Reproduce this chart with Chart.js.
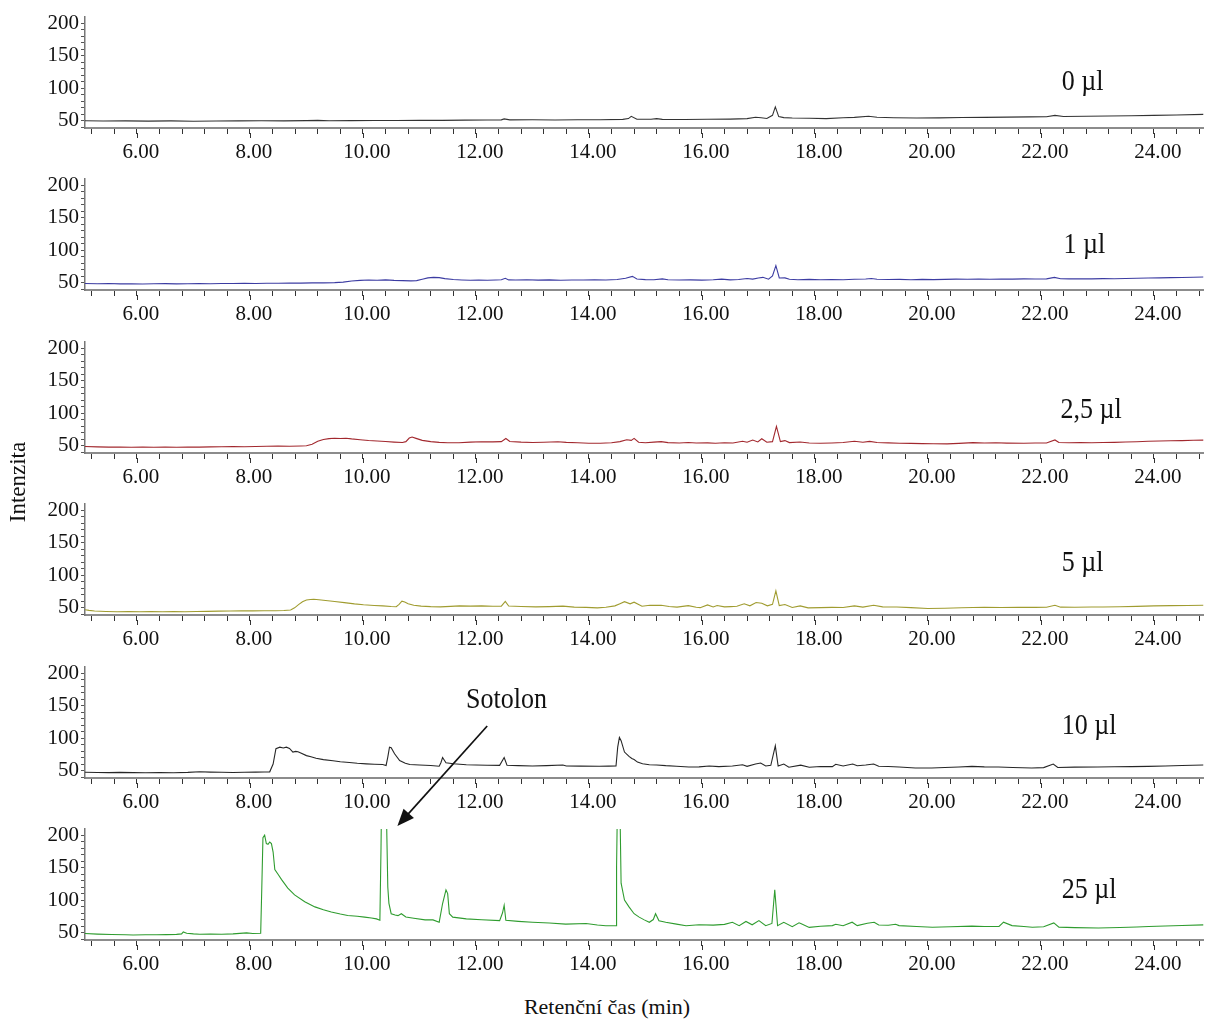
<!DOCTYPE html>
<html>
<head>
<meta charset="utf-8">
<title>Chromatogramy – sotolon</title>
<script src="https://cdn.jsdelivr.net/npm/chart.js@4.4.1/dist/chart.umd.min.js"></script>
<style>
  body { margin: 0; background: #fff; }
  #wrap { position: relative; width: 1205px; height: 1020px; overflow: hidden; }
  #wrap canvas { position: absolute; left: 0; }
  .title { position: absolute; font-family: "Liberation Serif", "DejaVu Serif", serif; color: #111; white-space: nowrap; }
  #ytitle { left: 18px; top: 482px; font-size: 23px; transform: translate(-50%, -50%) rotate(-90deg); }
  #xtitle { left: 607px; top: 1007px; font-size: 22px; transform: translate(-50%, -50%); }
</style>
</head>
<body>
<div id="wrap">
  <div id="ytitle" class="title">Intenzita</div>
  <div id="xtitle" class="title">Retenční čas (min)</div>
</div>
<script>
// retention time (min) / intensity pairs for each added volume
const sample0 = [
  [5.08,49.6],[5.4,49.3],[5.8,49.5],[6.2,49.1],[6.6,49.4],[7.0,49.0],[7.4,49.3],[7.8,49.4],[8.2,49.6],[8.6,49.5],
  [9.0,49.8],[9.2,50.2],[9.4,49.7],[9.8,49.9],[10.2,50.1],[10.6,50.0],[11.0,50.2],[11.4,50.3],[11.8,50.6],[12.2,50.9],
  [12.45,51.0],[12.5,52.5],[12.6,51.0],[13.0,51.2],[13.4,50.9],[13.8,51.3],[14.2,51.1],[14.6,51.8],[14.7,53.0],[14.75,56.5],
  [14.85,52.0],[15.1,51.9],[15.2,53.0],[15.3,51.8],[15.7,51.5],[16.1,51.9],[16.5,52.2],[16.8,53.0],[16.95,55.0],[17.05,54.2],
  [17.15,53.2],[17.25,58.0],[17.3,71.0],[17.36,56.0],[17.45,54.5],[17.6,53.8],[17.9,53.5],[18.2,53.0],[18.5,54.2],[18.7,54.8],
  [18.95,56.5],[19.1,55.0],[19.4,54.3],[19.8,54.0],[20.2,54.1],[20.6,54.6],[21.0,54.9],[21.4,55.2],[21.8,55.6],[22.1,55.8],
  [22.25,58.0],[22.4,56.2],[22.8,56.5],[23.2,56.9],[23.6,57.4],[24.0,57.9],[24.4,58.6],[24.88,59.5]
];
const sample1 = [
  [5.08,48.6],[5.3,48.1],[5.5,48.4],[5.7,47.9],[5.9,48.2],[6.1,47.8],[6.3,48.1],[6.5,48.3],[6.7,47.9],[6.9,48.2],
  [7.1,48.5],[7.3,48.2],[7.5,48.6],[7.7,48.4],[7.9,48.8],[8.1,48.6],[8.3,49.0],[8.5,48.8],[8.7,49.2],[8.9,49.1],
  [9.1,49.5],[9.3,49.4],[9.5,49.8],[9.65,50.6],[9.8,52.4],[9.95,53.3],[10.1,53.8],[10.25,53.5],[10.4,54.1],[10.55,53.4],
  [10.7,53.0],[10.85,52.6],[10.95,53.0],[11.05,55.0],[11.15,57.2],[11.25,58.0],[11.35,57.6],[11.45,56.0],[11.6,54.6],[11.75,54.0],
  [11.9,53.6],[12.05,54.0],[12.2,53.5],[12.35,53.9],[12.45,54.2],[12.52,56.6],[12.58,54.1],[12.7,53.8],[12.9,54.2],[13.1,53.7],
  [13.3,54.1],[13.5,53.6],[13.7,54.0],[13.9,53.8],[14.1,54.2],[14.3,53.9],[14.5,54.6],[14.65,56.5],[14.77,59.5],[14.85,55.5],
  [15.0,54.5],[15.15,54.2],[15.3,55.6],[15.4,54.4],[15.6,53.9],[15.8,54.1],[16.0,53.7],[16.2,54.3],[16.35,55.2],[16.5,54.1],
  [16.65,54.6],[16.8,56.3],[16.9,55.2],[17.0,57.0],[17.08,58.0],[17.18,55.2],[17.25,60.0],[17.31,76.0],[17.37,57.0],[17.47,57.2],
  [17.55,55.0],[17.7,54.4],[17.9,54.8],[18.1,54.2],[18.3,54.6],[18.5,54.3],[18.7,55.0],[18.9,55.4],[19.0,56.3],[19.1,55.1],
  [19.3,54.6],[19.5,54.9],[19.7,54.4],[19.9,54.8],[20.1,54.5],[20.3,54.9],[20.5,55.3],[20.7,55.0],[20.9,55.4],[21.1,55.1],
  [21.3,55.5],[21.5,55.2],[21.7,55.6],[21.9,55.4],[22.1,55.7],[22.24,58.0],[22.35,55.8],[22.5,55.6],[22.7,55.9],[22.9,55.7],
  [23.1,56.0],[23.3,55.8],[23.5,56.3],[23.7,56.6],[23.9,56.9],[24.1,57.2],[24.3,57.5],[24.5,57.7],[24.7,58.2],[24.88,58.6]
];
const sample2_5 = [
  [5.08,48.5],[5.3,48.0],[5.5,47.6],[5.7,47.8],[5.9,47.4],[6.1,47.7],[6.3,47.3],[6.5,47.6],[6.7,47.4],[6.9,47.7],
  [7.1,47.5],[7.3,47.9],[7.5,48.1],[7.7,48.4],[7.9,48.2],[8.1,48.6],[8.3,48.9],[8.5,49.1],[8.7,48.8],[8.9,49.3],
  [9.0,49.6],[9.1,52.0],[9.2,56.5],[9.3,59.3],[9.4,60.6],[9.5,61.2],[9.6,60.8],[9.7,61.3],[9.8,60.2],[9.95,59.0],
  [10.1,57.8],[10.25,57.0],[10.4,56.1],[10.55,55.3],[10.7,54.6],[10.76,56.0],[10.82,61.5],[10.87,63.0],[10.94,61.0],[11.05,58.0],
  [11.2,56.0],[11.35,54.8],[11.5,54.4],[11.7,54.2],[11.9,55.3],[12.1,55.8],[12.3,55.6],[12.45,56.0],[12.53,60.8],[12.6,56.2],
  [12.8,55.2],[13.0,54.6],[13.2,55.0],[13.45,55.8],[13.6,54.9],[13.8,54.4],[14.0,53.6],[14.2,53.5],[14.4,54.2],[14.55,56.0],
  [14.67,58.8],[14.75,58.0],[14.8,61.0],[14.88,55.0],[15.0,54.4],[15.15,55.2],[15.28,56.0],[15.4,54.5],[15.6,54.0],[15.76,54.6],
  [15.9,53.8],[16.1,54.1],[16.24,53.5],[16.4,54.4],[16.55,54.0],[16.72,56.5],[16.8,55.0],[16.9,58.5],[16.99,55.5],[17.06,60.5],
  [17.15,55.0],[17.25,56.0],[17.32,79.5],[17.39,56.0],[17.47,57.6],[17.55,54.5],[17.74,55.5],[17.9,54.0],[18.1,53.6],[18.3,54.0],
  [18.5,54.6],[18.7,56.6],[18.85,55.0],[18.97,56.4],[19.1,54.6],[19.3,54.1],[19.5,53.6],[19.7,53.4],[19.9,53.0],[20.1,52.8],
  [20.34,52.6],[20.55,53.4],[20.8,54.5],[21.0,53.9],[21.2,54.2],[21.4,53.7],[21.7,53.5],[21.9,53.8],[22.1,53.9],[22.25,58.6],
  [22.32,54.6],[22.5,54.2],[22.7,54.6],[22.9,54.3],[23.1,54.7],[23.3,54.9],[23.5,55.4],[23.7,55.9],[23.9,56.5],[24.1,56.9],
  [24.3,57.3],[24.5,57.6],[24.7,58.1],[24.88,58.4]
];
const sample5 = [
  [5.08,46.5],[5.15,45.6],[5.25,44.6],[5.45,44.0],[5.65,43.6],[5.85,43.9],[6.05,43.5],[6.25,43.8],[6.45,43.4],[6.65,43.7],
  [6.85,43.5],[7.05,43.9],[7.25,44.1],[7.45,44.4],[7.65,44.6],[7.85,44.9],[8.05,44.8],[8.25,45.1],[8.45,45.0],[8.6,45.4],
  [8.72,46.3],[8.79,49.5],[8.86,54.5],[8.93,59.0],[9.0,61.5],[9.07,62.4],[9.13,62.8],[9.22,62.0],[9.34,60.8],[9.5,59.2],
  [9.67,57.6],[9.85,55.6],[10.01,54.3],[10.2,53.2],[10.35,52.6],[10.5,51.6],[10.59,51.2],[10.64,55.0],[10.69,59.8],[10.74,58.4],
  [10.8,55.8],[10.9,53.6],[11.03,52.2],[11.2,51.4],[11.37,51.0],[11.55,51.8],[11.71,52.6],[11.9,52.2],[12.1,52.5],[12.3,52.0],
  [12.45,52.2],[12.52,59.5],[12.58,52.4],[12.8,51.6],[13.06,51.0],[13.3,51.4],[13.54,52.2],[13.74,50.6],[13.95,50.3],[14.15,49.5],
  [14.3,50.4],[14.46,52.6],[14.55,56.0],[14.63,59.0],[14.73,55.7],[14.8,58.3],[14.94,52.0],[15.08,53.6],[15.28,53.4],[15.42,51.5],
  [15.56,50.6],[15.76,53.0],[15.9,50.5],[15.97,49.8],[16.1,54.0],[16.2,50.8],[16.27,53.2],[16.4,51.0],[16.51,51.4],[16.62,52.0],
  [16.75,55.7],[16.85,52.6],[16.96,57.8],[17.06,56.7],[17.16,52.6],[17.25,55.0],[17.31,75.8],[17.37,53.0],[17.47,54.7],[17.6,50.0],
  [17.74,52.6],[17.88,49.5],[18.1,49.8],[18.3,50.2],[18.5,50.0],[18.7,52.6],[18.85,50.6],[19.04,53.6],[19.2,51.0],[19.45,50.8],
  [19.7,49.8],[20.0,48.5],[20.3,49.0],[20.6,49.6],[21.0,50.4],[21.3,50.0],[21.6,50.5],[21.9,50.2],[22.1,50.4],[22.25,53.6],
  [22.35,50.6],[22.6,50.4],[22.9,50.8],[23.1,50.9],[23.4,51.3],[23.7,51.8],[24.0,52.6],[24.3,52.9],[24.6,53.2],[24.88,53.6]
];
const sample10 = [
  [5.08,47.4],[5.3,47.0],[5.5,46.8],[5.7,47.1],[5.93,46.8],[6.15,46.6],[6.4,46.9],[6.65,46.7],[6.9,47.2],[7.11,48.2],
  [7.3,47.6],[7.5,47.3],[7.7,47.0],[7.9,47.4],[8.1,47.6],[8.25,47.8],[8.35,48.0],[8.41,60.0],[8.46,83.6],[8.53,86.0],
  [8.59,84.8],[8.645,86.0],[8.7,84.0],[8.76,78.5],[8.81,79.5],[8.85,79.0],[8.9,77.0],[9.0,73.0],[9.08,71.2],[9.17,69.0],
  [9.3,66.8],[9.47,65.0],[9.6,63.6],[9.76,62.4],[9.9,61.2],[10.06,60.3],[10.2,59.7],[10.35,59.3],[10.41,57.8],[10.44,70.7],
  [10.47,86.0],[10.5,85.0],[10.56,75.9],[10.65,65.5],[10.75,61.2],[10.83,59.3],[11.0,58.6],[11.2,57.8],[11.35,56.7],[11.38,62.0],
  [11.41,70.0],[11.47,62.0],[11.6,60.4],[11.83,59.0],[12.0,58.6],[12.2,58.2],[12.42,58.0],[12.5,70.0],[12.55,58.2],[12.75,57.6],
  [13.0,57.0],[13.25,57.6],[13.54,58.5],[13.6,57.0],[13.85,56.8],[14.18,56.5],[14.35,56.8],[14.48,57.0],[14.51,86.0],[14.54,101.0],
  [14.57,96.0],[14.63,78.5],[14.71,71.7],[14.76,68.5],[14.8,67.0],[14.86,63.0],[14.95,60.5],[15.07,59.0],[15.2,58.6],[15.36,57.5],
  [15.55,56.6],[15.77,55.5],[15.95,55.6],[16.13,57.0],[16.3,56.0],[16.54,57.0],[16.72,58.8],[16.8,56.4],[16.95,60.0],[17.04,61.5],
  [17.13,57.0],[17.22,58.0],[17.3,88.0],[17.35,57.0],[17.45,60.0],[17.54,55.0],[17.75,58.3],[17.9,55.0],[18.1,56.2],[18.31,56.0],
  [18.37,59.6],[18.5,57.0],[18.67,60.0],[18.75,57.4],[18.9,58.5],[19.04,60.0],[19.13,56.5],[19.3,56.2],[19.49,55.4],[19.78,53.8],
  [20.07,53.8],[20.3,54.6],[20.55,55.4],[20.78,56.4],[21.0,55.6],[21.25,55.4],[21.5,54.6],[21.84,53.8],[22.05,54.5],[22.22,60.0],
  [22.3,54.6],[22.6,55.2],[23.01,55.4],[23.3,55.8],[23.6,56.0],[23.9,56.4],[24.2,57.0],[24.5,57.8],[24.88,58.5]
];
const sample25 = [
  [5.08,48.4],[5.3,47.6],[5.55,47.0],[5.8,46.6],[5.93,46.3],[6.15,46.7],[6.35,46.5],[6.52,46.8],[6.7,47.2],[6.79,47.9],
  [6.82,51.0],[6.88,49.0],[7.0,48.0],[7.11,47.4],[7.3,47.6],[7.5,47.3],[7.7,47.9],[7.94,49.5],[8.05,48.6],[8.19,49.0],
  [8.21,120],[8.23,196],[8.26,200],[8.29,187],[8.32,186],[8.35,189.5],[8.38,187],[8.41,174],[8.44,147],[8.5,139.5],
  [8.56,131.6],[8.67,118.4],[8.79,108],[8.97,97.4],[9.15,89.5],[9.3,85.0],[9.44,81.6],[9.6,78.5],[9.73,76.3],[9.9,75.0],
  [10.03,73.7],[10.15,72.4],[10.24,71.0],[10.3,69.0],[10.32,180],[10.34,330],[10.37,360],[10.4,300],[10.42,215],[10.44,120],
  [10.46,95],[10.5,79],[10.57,77],[10.62,76],[10.68,79],[10.76,74],[10.9,72],[11.1,69.5],[11.24,69.5],[11.35,66],
  [11.41,94.7],[11.47,115.8],[11.5,110],[11.53,79],[11.59,73.7],[11.83,71],[12.1,69.6],[12.42,68.4],[12.47,80],[12.5,92],
  [12.53,68.8],[12.75,67.2],[13.0,65.8],[13.3,64.6],[13.59,63.0],[13.95,64.0],[14.15,61.6],[14.3,60.5],[14.48,60.5],[14.49,152],
  [14.51,280],[14.54,300],[14.55,240],[14.57,126],[14.63,100],[14.71,89.5],[14.8,79],[14.89,73.7],[14.98,69.5],[15.07,65.8],
  [15.14,70.0],[15.18,79],[15.24,68.0],[15.36,65.8],[15.55,63.0],[15.72,60.5],[15.95,62.0],[16.2,61.4],[16.4,62.6],[16.54,65.8],
  [16.66,60.5],[16.78,67.0],[16.89,62.0],[17.01,68.4],[17.13,60.5],[17.24,64],[17.29,115.8],[17.34,60.5],[17.45,65.8],[17.6,59.0],
  [17.72,65.0],[17.75,64.0],[17.9,57.9],[18.1,59.8],[18.31,60.7],[18.37,62.8],[18.5,60.4],[18.66,65.9],[18.75,60.7],[18.93,64.4],
  [19.05,65.9],[19.13,61.5],[19.3,61.2],[19.43,62.8],[19.49,60.7],[19.8,59.4],[20.08,58.2],[20.4,59.0],[20.78,59.8],[21.0,59.2],
  [21.26,59.4],[21.34,66.0],[21.49,60.7],[21.7,59.2],[21.85,58.2],[22.05,58.8],[22.23,64.9],[22.32,58.4],[22.6,57.6],[23.02,57.1],
  [23.4,57.8],[23.7,58.6],[23.91,59.2],[24.2,60.0],[24.5,60.8],[24.88,61.8]
];

const panelLabels = ['0 µl', '1 µl', '2,5 µl', '5 µl', '10 µl', '25 µl'];
const xTickLabels = [6, 8, 10, 12, 14, 16, 18, 20, 22, 24];
const yTickLabels = [50, 100, 150, 200];

// axis ranges
const X_MIN = 5.08, X_MAX = 24.88;
const Y_MIN = 38.5, Y_MAX = 209.5;

// panel styling and where each volume label sits (in data units)
const panels = [
  { data: sample0,   color: '#333333', labelAt: [22.37, 109.5] },
  { data: sample1,   color: '#3c3ca2', labelAt: [22.40, 108.0] },
  { data: sample2_5, color: '#a2282e', labelAt: [22.35, 105.0] },
  { data: sample5,   color: '#a09c30', labelAt: [22.37, 118.5] },
  { data: sample10,  color: '#262626', labelAt: [22.37, 118.5] },
  { data: sample25,  color: '#2f9c2f', labelAt: [22.37, 115.5] }
];

const PANEL_STEP = 162.4;
const PANEL_H = 163;
const serif = '"Liberation Serif", "DejaVu Serif", serif';

// minor ticks every 0.4 min on x, every 10 on y
const xTickPositions = [];
for (let i = 0; i <= 49; i++) xTickPositions.push(+(5.2 + 0.4 * i).toFixed(1));
const yTickPositions = [];
for (let v = 40; v <= 200; v += 10) yTickPositions.push(v);

// stretched serif text used for the volume labels and the peak note
function drawTallText(ctx, text, x, y, align) {
  ctx.save();
  ctx.font = '26px ' + serif;
  ctx.fillStyle = '#111';
  ctx.textAlign = align;
  ctx.textBaseline = 'middle';
  ctx.translate(x, y);
  ctx.scale(1, 1.15);
  ctx.fillText(text, 0, 0);
  ctx.restore();
}

const panelText = {
  id: 'panelText',
  afterDraw(chart, args, opts) {
    const { ctx, scales, chartArea } = chart;
    // labelled minutes get a longer tick than the 0.4 min ones
    ctx.save();
    ctx.strokeStyle = '#333';
    ctx.lineWidth = 1;
    xTickLabels.forEach(v => {
      const px = Math.round(scales.x.getPixelForValue(v)) + 0.5;
      ctx.beginPath();
      ctx.moveTo(px, chartArea.bottom + 5);
      ctx.lineTo(px, chartArea.bottom + 10);
      ctx.stroke();
    });
    ctx.restore();
    (opts.items || []).forEach(it => {
      drawTallText(ctx, it.text, scales.x.getPixelForValue(it.at[0]), scales.y.getPixelForValue(it.at[1]), it.align);
    });
  }
};

const wrap = document.getElementById('wrap');
const charts = [];
const tops = [];

panels.forEach((p, k) => {
  const canvas = document.createElement('canvas');
  canvas.width = 1205;
  canvas.height = PANEL_H;
  const top = Math.round(k * PANEL_STEP);
  tops.push(top);
  canvas.style.top = top + 'px';
  wrap.insertBefore(canvas, wrap.firstChild);

  const items = [{ text: panelLabels[k], at: p.labelAt, align: 'left' }];
  if (k === 4) items.push({ text: 'Sotolon', at: [12.54, 158.7], align: 'center' });

  charts.push(new Chart(canvas, {
    type: 'line',
    data: {
      datasets: [{
        data: p.data.map(d => ({ x: d[0], y: d[1] })),
        borderColor: p.color,
        borderWidth: 1.1,
        pointRadius: 0,
        tension: 0,
        fill: false
      }]
    },
    options: {
      responsive: false,
      animation: false,
      events: [],
      layout: { padding: { top: 17, left: 0, right: 0, bottom: 0 } },
      plugins: {
        legend: { display: false },
        tooltip: { enabled: false },
        panelText: { items }
      },
      scales: {
        x: {
          type: 'linear',
          min: X_MIN,
          max: X_MAX,
          afterFit: s => { s.height = 35; },
          afterBuildTicks: s => { s.ticks = xTickPositions.map(v => ({ value: v })); },
          ticks: {
            autoSkip: false,
            maxRotation: 0,
            padding: 6,
            labelOffset: 4,
            color: '#111',
            font: { family: serif, size: 21 },
            callback: v => xTickLabels.some(t => Math.abs(t - v) < 1e-6) ? v.toFixed(2) : ''
          },
          grid: { drawOnChartArea: false, tickLength: 6, tickColor: '#333', tickWidth: 1 },
          border: { display: true, color: '#8c8c8c', width: 2 }
        },
        y: {
          min: Y_MIN,
          max: Y_MAX,
          afterFit: s => { s.width = 85; },
          afterBuildTicks: s => { s.ticks = yTickPositions.map(v => ({ value: v })); },
          ticks: {
            autoSkip: false,
            padding: 2,
            color: '#111',
            font: { family: serif, size: 21 },
            callback: v => yTickLabels.includes(v) ? String(v) : ''
          },
          grid: { drawOnChartArea: false, tickLength: 4, tickColor: '#555', tickWidth: 1 },
          border: { display: true, color: '#777', width: 1.5 }
        }
      }
    },
    plugins: [panelText]
  }));
});

// arrow from the note in the 10 µl panel down to the sotolon peak in the 25 µl panel
const overlay = document.createElement('canvas');
overlay.width = 1205;
overlay.height = 1020;
overlay.style.top = '0px';
overlay.style.pointerEvents = 'none';
wrap.appendChild(overlay);

const arrowFrom = { panel: 4, at: [12.20, 118.6] };
const arrowTo = { panel: 5, at: [10.61, 214.2] };

function toPage(a) {
  const c = charts[a.panel];
  return {
    x: c.scales.x.getPixelForValue(a.at[0]),
    y: c.scales.y.getPixelForValue(a.at[1]) + tops[a.panel]
  };
}

const from = toPage(arrowFrom), to = toPage(arrowTo);
const octx = overlay.getContext('2d');
const ang = Math.atan2(to.y - from.y, to.x - from.x);
const headLen = 17, headHalf = 7;
octx.strokeStyle = '#111';
octx.fillStyle = '#111';
octx.lineWidth = 1.7;
octx.beginPath();
octx.moveTo(from.x, from.y);
octx.lineTo(to.x - Math.cos(ang) * headLen * 0.8, to.y - Math.sin(ang) * headLen * 0.8);
octx.stroke();
octx.beginPath();
octx.moveTo(to.x, to.y);
octx.lineTo(to.x - Math.cos(ang) * headLen - Math.sin(ang) * headHalf, to.y - Math.sin(ang) * headLen + Math.cos(ang) * headHalf);
octx.lineTo(to.x - Math.cos(ang) * headLen + Math.sin(ang) * headHalf, to.y - Math.sin(ang) * headLen - Math.cos(ang) * headHalf);
octx.closePath();
octx.fill();
</script>
</body>
</html>
